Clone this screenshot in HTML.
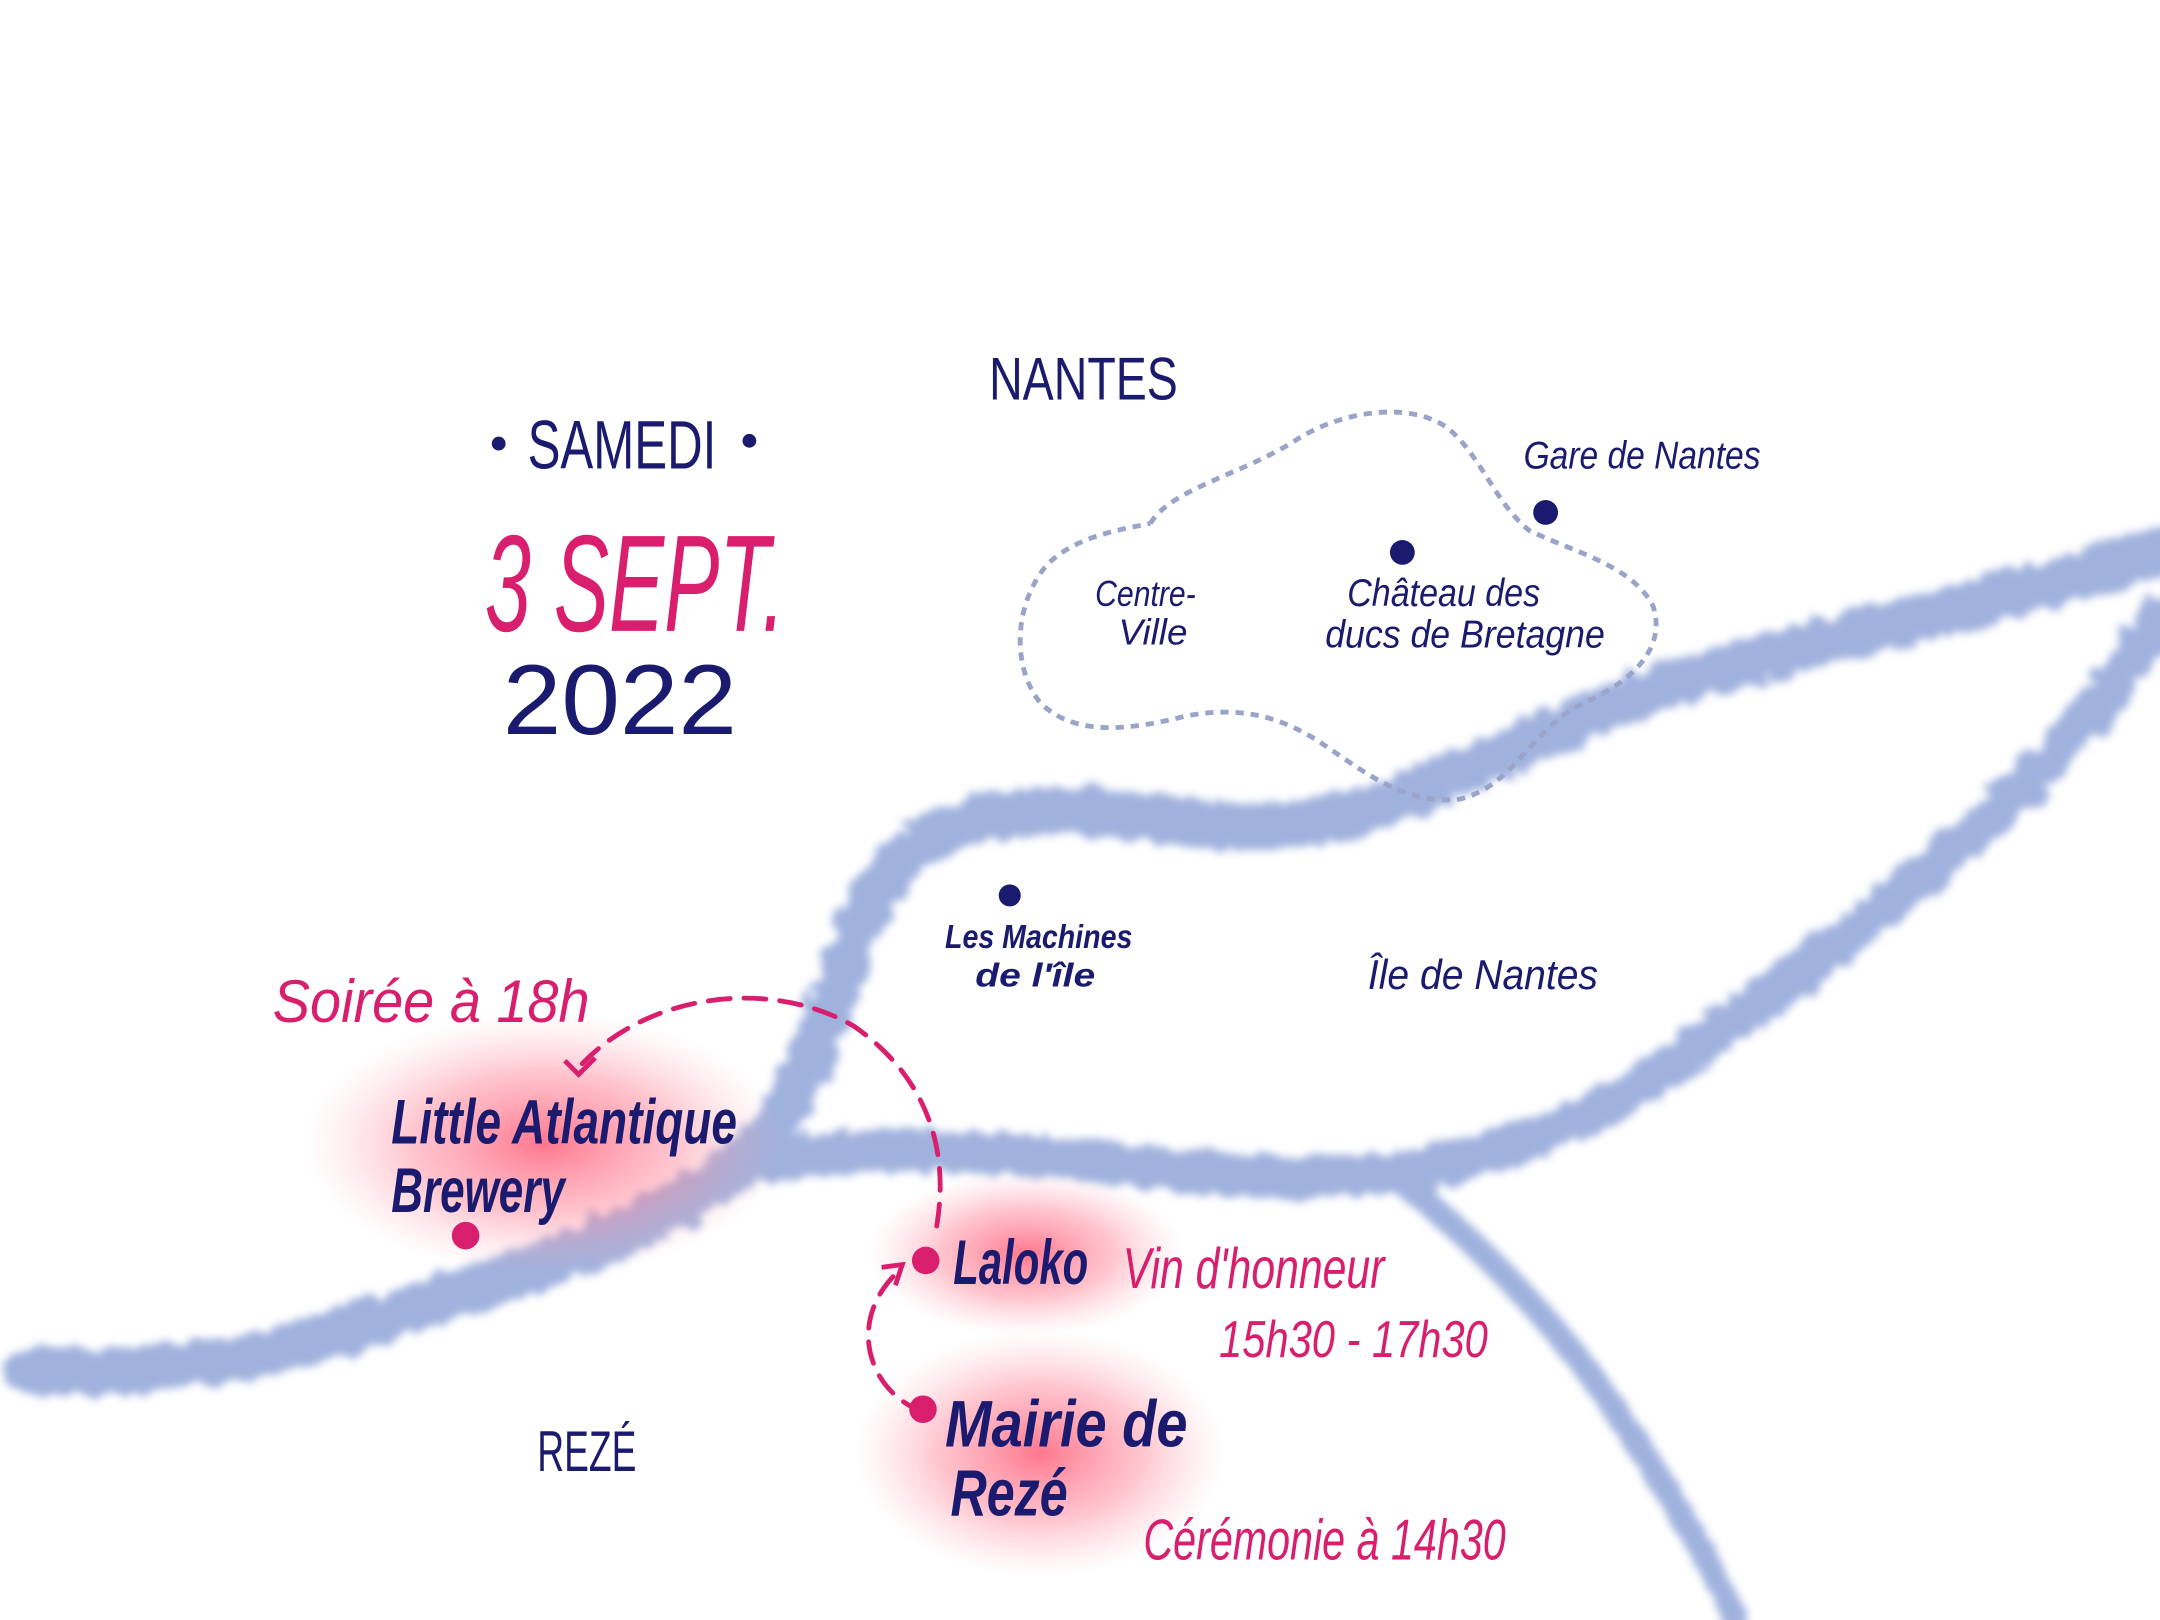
<!DOCTYPE html>
<html><head><meta charset="utf-8">
<style>
html,body{margin:0;padding:0;background:#fff;}
svg{display:block;}
text{font-family:"Liberation Sans",sans-serif;}
</style></head>
<body>
<svg width="2160" height="1620" viewBox="0 0 1568 1176" xmlns="http://www.w3.org/2000/svg">
<defs>
<filter id="blur" x="-10%" y="-10%" width="120%" height="120%">
<feTurbulence type="fractalNoise" baseFrequency="0.08" numOctaves="2" result="n"/>
<feDisplacementMap in="SourceGraphic" in2="n" scale="14" result="d"/>
<feGaussianBlur in="d" stdDeviation="3"/></filter>
<radialGradient id="glow" cx="50%" cy="50%" r="50%">
<stop offset="0" stop-color="#ff5f7a" stop-opacity="0.85"/>
<stop offset="0.55" stop-color="#ff7f94" stop-opacity="0.45"/>
<stop offset="1" stop-color="#ffb0bc" stop-opacity="0"/>
</radialGradient>
</defs>
<rect width="1568" height="1176" fill="#fff"/>
<g fill="none" stroke="#8fa4d8" stroke-linecap="round" stroke-linejoin="round" filter="url(#blur)" opacity="0.85">
<path stroke-width="34" d="M20,995 C120,1000 200,985 300,950 C400,915 500,890 560,820 C600,760 610,690 640,640 C680,590 740,585 800,590 C870,598 930,610 1000,585 C1080,555 1140,520 1220,495 C1320,465 1440,440 1568,400"/>
<path stroke-width="30" d="M560,845 C620,830 700,835 780,842 C860,850 950,860 1030,850 C1110,835 1180,800 1260,740 C1340,680 1420,620 1480,560 C1520,520 1545,480 1568,450"/>
<path stroke-width="18" d="M1020,860 C1070,900 1130,960 1170,1020 C1210,1080 1240,1130 1260,1176"/>
</g>
<path fill="none" stroke="#9aa3c8" stroke-width="3.5" stroke-dasharray="6,5" d="M835,380 C850,355 900,345 940,320 C970,300 1020,290 1050,310 C1075,330 1085,365 1110,385 C1140,400 1185,410 1200,440 C1210,470 1185,495 1150,510 C1110,530 1100,570 1060,580 C1020,585 990,560 960,540 C930,520 900,512 860,520 C820,530 780,535 755,510 C735,485 735,440 760,410 C780,390 810,385 835,380"/>
<ellipse cx="395" cy="830" rx="175" ry="95" fill="url(#glow)"/>
<ellipse cx="745" cy="910" rx="115" ry="60" fill="url(#glow)"/>
<ellipse cx="755" cy="1055" rx="135" ry="90" fill="url(#glow)"/>
<g fill="none" stroke="#d91e6d" stroke-width="3.5" stroke-dasharray="16,10" stroke-linecap="round">
<path d="M680,890 C690,830 670,780 620,745 C560,710 470,720 420,775"/>
<path d="M670,1025 C630,1010 615,960 650,925"/>
</g>
<path d="M410,770 L420,780 L432,768" fill="none" stroke="#d91e6d" stroke-width="3.5"/>
<path d="M640,920 L655,918 L650,933" fill="none" stroke="#d91e6d" stroke-width="3.5"/>
<g fill="#1a1a6e">
<circle cx="1018" cy="401" r="9"/>
<circle cx="1122" cy="372" r="9"/>
<circle cx="733" cy="650" r="8"/>
</g>
<g fill="#d91e6d">
<circle cx="338" cy="897" r="10"/>
<circle cx="672" cy="915" r="10"/>
<circle cx="670" cy="1023" r="10"/>
</g>
<g fill="#1a1a6e">
<text x="718" y="290" font-size="44" textLength="137" lengthAdjust="spacingAndGlyphs">NANTES</text>
<circle cx="362" cy="322" r="5"/><circle cx="544" cy="320" r="5"/>
<text x="383" y="340" font-size="50" textLength="137" lengthAdjust="spacingAndGlyphs">SAMEDI</text>
<text x="365" y="533" font-size="72" textLength="170" lengthAdjust="spacingAndGlyphs">2022</text>
<text x="1106" y="340" font-size="28" font-style="italic" textLength="172" lengthAdjust="spacingAndGlyphs">Gare de Nantes</text>
<text x="795" y="440" font-size="26" font-style="italic" textLength="73" lengthAdjust="spacingAndGlyphs">Centre-</text>
<text x="812" y="468" font-size="26" font-style="italic" textLength="50" lengthAdjust="spacingAndGlyphs">Ville</text>
<text x="978" y="440" font-size="28" font-style="italic" textLength="140" lengthAdjust="spacingAndGlyphs">Château des</text>
<text x="962" y="470" font-size="28" font-style="italic" textLength="203" lengthAdjust="spacingAndGlyphs">ducs de Bretagne</text>
<text x="686" y="688" font-size="24" font-style="italic" font-weight="bold" textLength="136" lengthAdjust="spacingAndGlyphs">Les Machines</text>
<text x="708" y="716" font-size="24" font-style="italic" font-weight="bold" textLength="87" lengthAdjust="spacingAndGlyphs">de l'île</text>
<text x="993" y="718" font-size="30" font-style="italic" textLength="167" lengthAdjust="spacingAndGlyphs">Île de Nantes</text>
<text x="284" y="830" font-size="46" font-style="italic" font-weight="bold" textLength="251" lengthAdjust="spacingAndGlyphs">Little Atlantique</text>
<text x="284" y="880" font-size="46" font-style="italic" font-weight="bold" textLength="126" lengthAdjust="spacingAndGlyphs">Brewery</text>
<text x="692" y="932" font-size="46" font-style="italic" font-weight="bold" textLength="98" lengthAdjust="spacingAndGlyphs">Laloko</text>
<text x="686" y="1050" font-size="48" font-style="italic" font-weight="bold" textLength="176" lengthAdjust="spacingAndGlyphs">Mairie de</text>
<text x="690" y="1100" font-size="48" font-style="italic" font-weight="bold" textLength="85" lengthAdjust="spacingAndGlyphs">Rezé</text>
<text x="390" y="1068" font-size="42" textLength="72" lengthAdjust="spacingAndGlyphs">REZÉ</text>
</g>
<g fill="#d91e6d">
<text x="352" y="458" font-size="100" font-style="italic" textLength="218" lengthAdjust="spacingAndGlyphs">3 SEPT.</text>
<text x="198" y="742" font-size="44" font-style="italic" textLength="230" lengthAdjust="spacingAndGlyphs">Soirée à 18h</text>
<text x="815" y="935" font-size="42" font-style="italic" textLength="190" lengthAdjust="spacingAndGlyphs">Vin d'honneur</text>
<text x="885" y="985" font-size="38" font-style="italic" textLength="195" lengthAdjust="spacingAndGlyphs">15h30 - 17h30</text>
<text x="830" y="1132" font-size="42" font-style="italic" textLength="263" lengthAdjust="spacingAndGlyphs">Cérémonie à 14h30</text>
</g>
</svg>
</body></html>
